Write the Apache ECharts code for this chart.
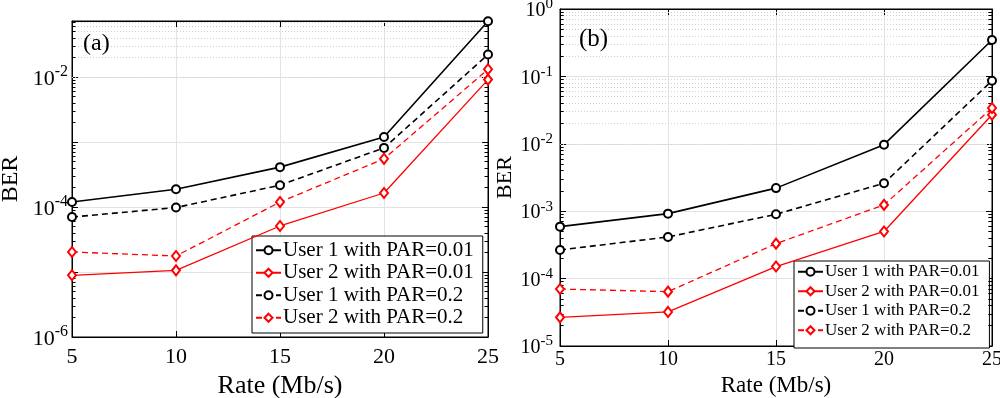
<!DOCTYPE html>
<html><head><meta charset="utf-8">
<script src="https://cdn.jsdelivr.net/npm/echarts@6/dist/echarts.min.js"></script>
<style>html,body{margin:0;padding:0;background:#fff}#c{width:1000px;height:398px}</style>
</head><body><div id="c"></div>
<script>
const rates = [5, 10, 15, 20, 25];
const seriesNames = ['User 1 with PAR=0.01', 'User 2 with PAR=0.01', 'User 1 with PAR=0.2', 'User 2 with PAR=0.2'];
// panel (a)
const aUser1Par001 = [1.19e-4, 1.87e-4, 4.1e-4, 1.19e-3, 0.072];
const aUser2Par001 = [8.9e-6, 1.06e-5, 5.1e-5, 1.64e-4, 9.1e-3];
const aUser1Par02  = [7.0e-5, 9.8e-5, 2.16e-4, 8.1e-4, 0.0221];
const aUser2Par02  = [2.03e-5, 1.76e-5, 1.19e-4, 5.5e-4, 0.0131];
// panel (b)
const bUser1Par001 = [5.9e-4, 9.2e-4, 2.2e-3, 9.7e-3, 0.347];
const bUser2Par001 = [2.66e-5, 3.2e-5, 1.51e-4, 5.0e-4, 0.027];
const bUser1Par02  = [2.66e-4, 4.15e-4, 9.0e-4, 2.6e-3, 0.0863];
const bUser2Par02  = [7.0e-5, 6.4e-5, 3.3e-4, 1.24e-3, 0.034];
const aYLabelExps = [-6, -4, -2];
const bYLabelExps = [-5, -4, -3, -2, -1, 0];
const panelLabels = ['(a)', '(b)'];

const FONT = 'Liberation Serif';
const chart = echarts.init(document.getElementById('c'));

function minorMarks(lo, hi, maxV) {
  const out = [];
  for (let n = lo; n <= hi; n++) for (let k = 2; k <= 9; k++) {
    const v = k * Math.pow(10, n);
    if (v >= maxV) continue;
    out.push({yAxis: v, lineStyle: {color: '#d0d0d0', width: 1, type: [1, 2]}});
    out.push([{coord: [5, v], lineStyle: {color: '#000', width: 1, type: 'solid'}}, {coord: [5.17, v]}]);
    out.push([{coord: [24.83, v], lineStyle: {color: '#000', width: 1, type: 'solid'}}, {coord: [25, v]}]);
  }
  return out;
}
function mkLabel(exps) {
  return function (v) {
    const e = Math.round(Math.log10(v));
    if (Math.abs(Math.log10(v) - e) > 1e-6) return '';
    if (exps.indexOf(e) < 0) return '';
    return '{b|10}{s|' + e + '}';
  };
}
function mkRich(bs, ss) {
  return {
    b: {fontSize: bs, fontFamily: FONT, color: '#000', verticalAlign: 'bottom', lineHeight: bs + 4},
    s: {fontSize: ss, fontFamily: FONT, color: '#000', verticalAlign: 'top', lineHeight: bs + 4, padding: [0, 0, Math.round(bs * 0.5), 0]}
  };
}
function xAxes(gi, margin, gap, fs, nfs) {
  return [{
    type: 'value', gridIndex: gi, min: 5, max: 25, interval: 5,
    name: 'Rate (Mb/s)', nameLocation: 'middle', nameGap: gap,
    nameTextStyle: {fontFamily: FONT, fontSize: nfs, color: '#000'},
    axisLine: {show: true, lineStyle: {color: '#000', width: 1}},
    axisTick: {show: true, inside: true, length: 6, lineStyle: {color: '#000'}},
    axisLabel: {fontFamily: FONT, fontSize: fs, color: '#000', margin: margin},
    splitLine: {show: true, lineStyle: {color: '#e3e3e3', width: 1}}
  }, {
    type: 'value', gridIndex: gi, min: 5, max: 25, interval: 5, position: 'top',
    axisLine: {show: true, lineStyle: {color: '#000', width: 1}},
    axisTick: {show: true, inside: true, length: 6, lineStyle: {color: '#000'}},
    axisLabel: {show: false}, splitLine: {show: false}
  }];
}
function yAxes(gi, minV, maxV, exps, gap, fs, ss, nfs, margin) {
  return [{
    type: 'log', logBase: 10, gridIndex: gi, min: minV, max: maxV, interval: 1,
    name: 'BER', nameLocation: 'middle', nameGap: gap,
    nameTextStyle: {fontFamily: FONT, fontSize: nfs, color: '#000'},
    axisLine: {show: true, lineStyle: {color: '#000', width: 1}},
    axisTick: {show: true, inside: true, length: 6, lineStyle: {color: '#000'}},
    axisLabel: {formatter: mkLabel(exps), rich: mkRich(fs, ss), margin: margin, showMaxLabel: true},
    splitLine: {show: true, lineStyle: {color: '#e3e3e3', width: 1}}
  }, {
    type: 'log', logBase: 10, gridIndex: gi, min: minV, max: maxV, interval: 1, position: 'right',
    axisLine: {show: true, lineStyle: {color: '#000', width: 1}},
    axisTick: {show: true, inside: true, length: 6, lineStyle: {color: '#000'}},
    axisLabel: {show: false}, splitLine: {show: false}
  }];
}
function mkSeries(name, vals, xi, yi, color, dashed, sym) {
  return {
    name: name, type: 'line', xAxisIndex: xi, yAxisIndex: yi,
    data: rates.map((r, i) => [r, vals[i]]),
    symbol: sym === 'c' ? 'emptyCircle' : 'emptyDiamond',
    symbolSize: sym === 'c' ? 8 : [8, 10],
    showAllSymbol: true,
    lineStyle: {color: color, width: color === '#000' ? 1.6 : 1.3, type: dashed ? [6, 4] : 'solid'},
    itemStyle: {color: color, borderColor: color, borderWidth: 1.6},
    emphasis: {disabled: true}, animation: false, z: 5
  };
}
function gridSeries(xi, yi, marks) {
  return {
    type: 'line', xAxisIndex: xi, yAxisIndex: yi, data: [], z: 1, silent: true, animation: false,
    markLine: {silent: true, symbol: 'none', label: {show: false}, animation: false, data: marks}
  };
}
const aMin = 1e-6, aMax = 0.0725, bMin = 1e-5, bMax = 1;
const option = {
  backgroundColor: '#fff',
  animation: false,
  title: [
    {text: panelLabels[0], left: 78, top: 27, textStyle: {fontFamily: FONT, fontSize: 24, fontWeight: 'normal', color: '#000'}},
    {text: panelLabels[1], left: 574, top: 22, textStyle: {fontFamily: FONT, fontSize: 25, fontWeight: 'normal', color: '#000'}}
  ],
  grid: [
    {left: 72, right: 512, top: 21, bottom: 61, show: true, borderColor: '#000', borderWidth: 1, containLabel: false, outerBoundsMode: 'none'},
    {left: 560, right: 8, top: 9, bottom: 52, show: true, borderColor: '#000', borderWidth: 1, containLabel: false, outerBoundsMode: 'none'}
  ],
  legend: [
    {data: seriesNames, orient: 'vertical', left: 252, top: 236,
     backgroundColor: '#fff', borderColor: '#000', borderWidth: 1, padding: [3, 9, 4, 3], itemGap: 0,
     itemWidth: 25, itemHeight: 10, textStyle: {fontFamily: FONT, fontSize: 21, lineHeight: 22.5, color: '#000', padding: [0, 0, 0, -3]}},
    {data: seriesNames, orient: 'vertical', left: 794, top: 261,
     backgroundColor: '#fff', borderColor: '#000', borderWidth: 1, padding: [1, 10, 8, 3], itemGap: 0,
     itemWidth: 25, itemHeight: 10, textStyle: {fontFamily: FONT, fontSize: 17, lineHeight: 19.5, color: '#000', padding: [0, 0, 0, -3]}}
  ],
  xAxis: [].concat(xAxes(0, 9, 33, 22, 26), xAxes(1, 4, 27, 20, 23)),
  yAxis: [].concat(yAxes(0, aMin, aMax, aYLabelExps, 49, 22, 16, 24, 4), yAxes(1, bMin, bMax, bYLabelExps, 35, 20, 15, 22, 7)),
  series: [
    gridSeries(0, 0, minorMarks(-6, -2, aMax)),
    mkSeries(seriesNames[0], aUser1Par001, 0, 0, '#000', false, 'c'),
    mkSeries(seriesNames[1], aUser2Par001, 0, 0, '#f00', false, 'd'),
    mkSeries(seriesNames[2], aUser1Par02, 0, 0, '#000', true, 'c'),
    mkSeries(seriesNames[3], aUser2Par02, 0, 0, '#f00', true, 'd'),
    gridSeries(2, 2, minorMarks(-5, -1, bMax)),
    mkSeries(seriesNames[0], bUser1Par001, 2, 2, '#000', false, 'c'),
    mkSeries(seriesNames[1], bUser2Par001, 2, 2, '#f00', false, 'd'),
    mkSeries(seriesNames[2], bUser1Par02, 2, 2, '#000', true, 'c'),
    mkSeries(seriesNames[3], bUser2Par02, 2, 2, '#f00', true, 'd')
  ]
};
chart.setOption(option);
</script></body></html>
